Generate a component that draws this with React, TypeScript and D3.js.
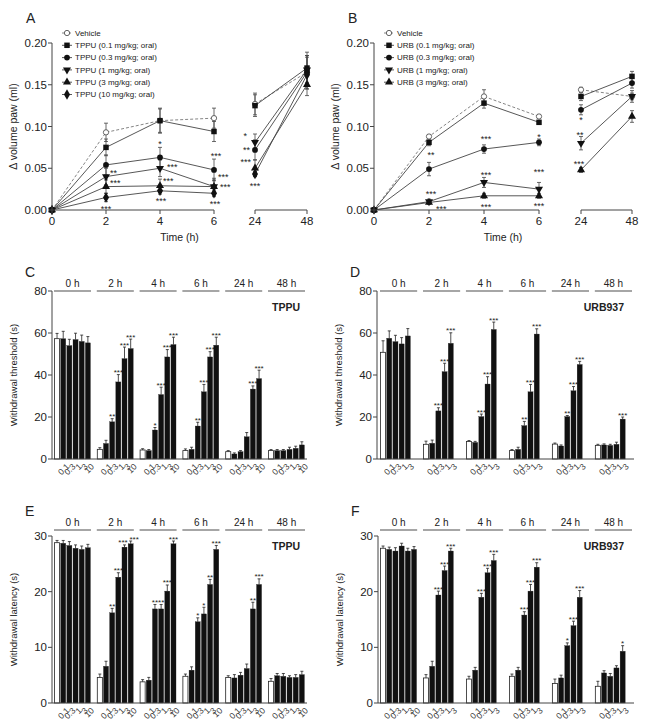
import React from 'react';
import * as d3 from 'd3';

const FONT = 'Arial, "Liberation Sans", Helvetica, sans-serif';
const INK = '#222';

const TIMES = [0, 2, 4, 6, 24, 48];
const GROUPS = ['0 h', '2 h', '4 h', '6 h', '24 h', '48 h'];
const DOSES = ['0.1', '0.3', '1', '3', '10'];
const MARKERS = ['openCircle', 'square', 'circle', 'triDown', 'triUp', 'diamond'];

// ---- panel A: TPPU, paw volume
const tppuNames = ['Vehicle', 'TPPU (0.1 mg/kg; oral)', 'TPPU (0.3 mg/kg; oral)', 'TPPU (1 mg/kg; oral)', 'TPPU (3 mg/kg; oral)', 'TPPU (10 mg/kg; oral)'];
const tppuPawMean = [
  [0, 0.093, 0.107, 0.110, 0.127, 0.165],
  [0, 0.075, 0.107, 0.094, 0.125, 0.170],
  [0, 0.054, 0.063, 0.048, 0.072, 0.165],
  [0, 0.040, 0.050, 0.028, 0.081, 0.168],
  [0, 0.028, 0.029, 0.028, 0.050, 0.150],
  [0, 0.015, 0.023, 0.020, 0.043, 0.162],
];
const tppuPawErr = [
  [0, 0.011, 0.014, 0.012, 0.013, 0.020],
  [0, 0.010, 0.015, 0.012, 0.013, 0.019],
  [0, 0.012, 0.012, 0.013, 0.012, 0.020],
  [0, 0.010, 0.010, 0.010, 0.010, 0.015],
  [0, 0.008, 0.008, 0.008, 0.010, 0.013],
  [0, 0.005, 0.004, 0.004, 0.003, 0.010],
];
const tppuPawStars = [
  { t: 2, v: 0.047, s: '**', dx: 4, anchor: 'start' },
  { t: 2, v: 0.035, s: '***', dx: 4, anchor: 'start' },
  { t: 2, v: 0.004, s: '***', dx: 0, anchor: 'middle' },
  { t: 4, v: 0.081, s: '*', dx: 0, anchor: 'middle' },
  { t: 4, v: 0.054, s: '***', dx: 7, anchor: 'start' },
  { t: 4, v: 0.037, s: '***', dx: 3, anchor: 'start' },
  { t: 4, v: 0.013, s: '***', dx: 1, anchor: 'middle' },
  { t: 6, v: 0.067, s: '***', dx: 2, anchor: 'middle' },
  { t: 6, v: 0.042, s: '***', dx: 4, anchor: 'start' },
  { t: 6, v: 0.030, s: '***', dx: 6, anchor: 'start' },
  { t: 6, v: 0.010, s: '***', dx: 1, anchor: 'middle' },
  { t: 24, v: 0.091, s: '*', dx: -8, anchor: 'end' },
  { t: 24, v: 0.074, s: '**', dx: -5, anchor: 'end' },
  { t: 24, v: 0.060, s: '***', dx: -4, anchor: 'end' },
  { t: 24, v: 0.031, s: '***', dx: 0, anchor: 'middle' },
];

// ---- panel B: URB937, paw volume
const urbNames = ['Vehicle', 'URB (0.1 mg/kg; oral)', 'URB (0.3 mg/kg; oral)', 'URB (1 mg/kg; oral)', 'URB (3 mg/kg; oral)'];
const urbPawMean = [
  [0, 0.088, 0.136, 0.112, 0.144, 0.136],
  [0, 0.081, 0.128, 0.105, 0.136, 0.160],
  [0, 0.049, 0.073, 0.081, 0.120, 0.152],
  [0, 0.010, 0.033, 0.025, 0.080, 0.136],
  [0, 0.009, 0.017, 0.017, 0.048, 0.112],
];
const urbPawErr = [
  [0, 0.002, 0.008, 0.002, 0.003, 0.004],
  [0, 0.004, 0.006, 0.002, 0.005, 0.006],
  [0, 0.008, 0.005, 0.004, 0.006, 0.006],
  [0, 0.003, 0.006, 0.008, 0.008, 0.007],
  [0, 0.002, 0.003, 0.003, 0.003, 0.007],
];
const urbPawStars = [
  { t: 2, v: 0.068, s: '**', dx: 2, anchor: 'middle' },
  { t: 2, v: 0.021, s: '***', dx: 2, anchor: 'middle' },
  { t: 2, v: 0.003, s: '***', dx: 7, anchor: 'start' },
  { t: 4, v: 0.088, s: '***', dx: 2, anchor: 'middle' },
  { t: 4, v: 0.044, s: '***', dx: 2, anchor: 'middle' },
  { t: 4, v: 0.006, s: '***', dx: 2, anchor: 'middle' },
  { t: 6, v: 0.090, s: '*', dx: 0, anchor: 'middle' },
  { t: 6, v: 0.048, s: '***', dx: 0, anchor: 'middle' },
  { t: 6, v: 0.007, s: '***', dx: 0, anchor: 'middle' },
  { t: 24, v: 0.110, s: '*', dx: 0, anchor: 'middle' },
  { t: 24, v: 0.092, s: '**', dx: -1, anchor: 'middle' },
  { t: 24, v: 0.058, s: '***', dx: -2, anchor: 'middle' },
];

// ---- panel C: TPPU withdrawal threshold
const tppuThrMean = [
  [57.3, 57.3, 54.0, 56.9, 56.0, 55.3],
  [4.6, 7.4, 17.7, 36.7, 47.8, 52.6],
  [4.3, 4.0, 13.8, 30.7, 48.6, 54.5],
  [4.0, 4.6, 15.7, 32.0, 48.6, 54.2],
  [3.5, 2.4, 3.5, 10.6, 33.3, 38.3],
  [4.0, 4.0, 4.0, 4.6, 5.1, 6.7],
];
const tppuThrErr = [
  [2.5, 3.5, 3, 3, 3, 3],
  [0.8, 1.5, 1.5, 3.5, 5.5, 4.5],
  [0.6, 0.5, 1.2, 3.5, 3.5, 3.5],
  [0.8, 1, 1.8, 3.5, 2.5, 3.8],
  [0.5, 0.5, 0.5, 2, 1.5, 4],
  [0.5, 0.5, 0.5, 1, 1, 1.5],
];
const tppuThrStars = [
  ['', '', '', '', '', ''],
  ['', '', '**', '***', '***', '***'],
  ['', '', '*', '***', '***', '***'],
  ['', '', '**', '***', '***', '***'],
  ['', '', '', '', '***', '***'],
  ['', '', '', '', '', ''],
];

// ---- panel D: URB937 withdrawal threshold
const urbThrMean = [
  [50.8, 57.5, 55.9, 54.8, 58.6],
  [7.0, 7.5, 22.9, 41.6, 55.1],
  [8.3, 7.9, 20.2, 35.7, 61.7],
  [4.0, 4.6, 15.9, 32.0, 59.5],
  [7.1, 6.2, 20.2, 32.5, 45.0],
  [6.5, 6.7, 6.5, 7.0, 19.0],
];
const urbThrErr = [
  [5.5, 3.5, 3, 3, 3.5],
  [1.5, 1.5, 1.5, 4, 5],
  [0.5, 0.5, 1.2, 3.5, 3.5],
  [0.5, 1, 2, 3.5, 2.5],
  [0.5, 0.5, 0.5, 2, 1.5],
  [0.5, 0.5, 0.5, 1, 1],
];
const urbThrStars = [
  ['', '', '', '', ''],
  ['', '', '***', '***', '***'],
  ['', '', '***', '***', '***'],
  ['', '', '**', '***', '***'],
  ['', '', '**', '***', '***'],
  ['', '', '', '', '***'],
];

// ---- panel E: TPPU withdrawal latency
const tppuLatMean = [
  [28.8, 28.7, 28.3, 27.8, 27.6, 27.9],
  [4.6, 6.6, 16.2, 22.6, 28.0, 28.6],
  [3.8, 4.1, 16.9, 16.9, 20.1, 28.6],
  [4.8, 5.9, 14.6, 16.0, 21.3, 27.6],
  [4.6, 4.5, 5.0, 6.2, 16.9, 21.3],
  [3.9, 4.9, 4.8, 4.6, 4.6, 5.1],
];
const tppuLatErr = [
  [0.4, 0.5, 0.7, 0.6, 0.6, 0.6],
  [0.6, 0.9, 0.8, 0.8, 0.4, 0.5],
  [0.4, 0.5, 0.8, 0.8, 1.1, 0.5],
  [0.4, 0.6, 0.7, 1.2, 0.9, 0.7],
  [0.3, 0.6, 0.5, 0.8, 1.2, 1.0],
  [0.5, 0.4, 0.5, 0.3, 0.5, 0.6],
];
const tppuLatStars = [
  ['', '', '', '', '', ''],
  ['', '', '**', '***', '***', '***'],
  ['', '', '**', '**', '***', '***'],
  ['', '', '*', '*', '**', '***'],
  ['', '', '', '', '**', '***'],
  ['', '', '', '', '', ''],
];
// stars nudged sideways where they would collide: [group, bar, dx]
const tppuLatStarNudge = [[1, 4, -1.5], [1, 5, 3.5]];

// ---- panel F: URB937 withdrawal latency
const urbLatMean = [
  [27.8, 27.6, 27.3, 28.2, 27.3, 27.6],
  [4.5, 6.6, 19.4, 23.8, 27.3],
  [4.3, 5.9, 19.0, 23.4, 25.6],
  [4.8, 5.9, 15.8, 20.1, 24.4],
  [3.5, 4.5, 10.3, 13.9, 19.0],
  [3.0, 5.4, 4.8, 6.3, 9.3],
];
const urbLatErr = [
  [0.4, 0.4, 0.6, 0.5, 0.5, 0.5],
  [0.6, 0.9, 0.7, 0.8, 0.5],
  [0.5, 0.5, 0.7, 0.8, 1.1],
  [0.4, 0.5, 0.6, 1.2, 0.8],
  [0.8, 0.5, 0.5, 0.8, 1.2],
  [0.9, 0.4, 0.5, 0.4, 1.0],
];
const urbLatStars = [
  ['', '', '', '', '', ''],
  ['', '', '***', '***', '***'],
  ['', '', '***', '***', '***'],
  ['', '', '***', '***', '***'],
  ['', '', '*', '***', '***'],
  ['', '', '', '', '*'],
];

const markerSize: Record<string, number> = { openCircle: 22, square: 30, circle: 26, triDown: 28, triUp: 28, diamond: 32 };

function Marker({ kind, x, y }: { kind: string; x: number; y: number }) {
  const type = kind === 'square' ? d3.symbolSquare : kind === 'diamond' ? d3.symbolDiamond : kind.startsWith('tri') ? d3.symbolTriangle : d3.symbolCircle;
  const d = d3.symbol().type(type).size(markerSize[kind])() as string;
  const open = kind === 'openCircle';
  return (
    <path
      d={d}
      transform={`translate(${x},${y}) rotate(${kind === 'triDown' ? 180 : 0})`}
      fill={open ? '#fff' : '#111'}
      stroke={open ? '#555' : 'none'}
      strokeWidth={0.9}
    />
  );
}

function LinePanel({ letter, axisX, early, late, names, means, errs, stars }: any) {
  const y = d3.scaleLinear().domain([0, 0.2]).range([210, 43]);
  const xe = d3.scaleLinear().domain([0, 6]).range(early);
  const xl = d3.scaleLinear().domain([24, 48]).range(late);
  const xp = (t: number) => (t <= 6 ? xe(t) : xl(t));
  const line = d3.line<number[]>().x((d) => xp(d[0])).y((d) => y(d[1]));
  const pts = (row: number[]) => TIMES.map((t, j) => [t, row[j]]);

  return (
    <g fontFamily={FONT} fill={INK}>
      <text x={axisX - 26} y={23} fontSize={14}>{letter}</text>
      {/* series lines, broken between 6 h and 24 h */}
      {means.map((row: number[], i: number) => {
        const p = pts(row);
        return (
          <g key={'l' + i} fill="none" stroke={i === 0 ? '#777' : '#444'} strokeWidth={0.9} strokeDasharray={i === 0 ? '3,2' : undefined}>
            <path d={line(p.slice(0, 4)) as string} />
            <path d={line(p.slice(4)) as string} />
          </g>
        );
      })}
      {means.map((row: number[], i: number) =>
        row.map((v, j) => {
          const e = errs[i][j];
          if (!e) return null;
          const x = xp(TIMES[j]);
          return (
            <g key={`e${i}-${j}`} stroke="#444" strokeWidth={0.8}>
              <line x1={x} x2={x} y1={y(v - e)} y2={y(v + e)} />
              <line x1={x - 2} x2={x + 2} y1={y(v - e)} y2={y(v - e)} />
              <line x1={x - 2} x2={x + 2} y1={y(v + e)} y2={y(v + e)} />
            </g>
          );
        })
      )}
      {means.map((row: number[], i: number) =>
        row.map((v, j) => <Marker key={`m${i}-${j}`} kind={MARKERS[i]} x={xp(TIMES[j])} y={y(v)} />)
      )}
      <g stroke="#444" strokeWidth={1}>
        <line x1={axisX} x2={axisX} y1={y(0)} y2={y(0.2)} />
        <line x1={early[0]} x2={early[1]} y1={y(0)} y2={y(0)} />
        <line x1={late[0]} x2={late[1]} y1={y(0)} y2={y(0)} />
        {y.ticks(4).map((t) => (
          <line key={'yt' + t} x1={axisX - 4} x2={axisX} y1={y(t)} y2={y(t)} />
        ))}
        {TIMES.map((t) => (
          <line key={'xt' + t} x1={xp(t)} x2={xp(t)} y1={y(0)} y2={y(0) + 4} />
        ))}
      </g>
      {y.ticks(4).map((t) => (
        <text key={'yl' + t} x={axisX - 5} y={y(t)} dy="0.35em" textAnchor="end" fontSize={11.5}>
          {d3.format('.2f')(t)}
        </text>
      ))}
      {TIMES.map((t) => (
        <text key={'xl' + t} x={xp(t)} y={y(0) + 15} textAnchor="middle" fontSize={11.5}>
          {t}
        </text>
      ))}
      <text x={(early[0] + late[1]) / 2} y={241} textAnchor="middle" fontSize={10.5}>Time (h)</text>
      <text transform={`translate(${axisX - 35},${y(0.1)}) rotate(-90)`} textAnchor="middle" fontSize={10.5}>
        Δ volume paw (ml)
      </text>
      {names.map((n: string, i: number) => {
        const ly = 33 + i * 12.3;
        const lx = axisX + 15;
        return (
          <g key={'lg' + i}>
            <line x1={lx - 5} x2={lx + 5} y1={ly} y2={ly} stroke={i === 0 ? '#777' : '#444'} strokeWidth={0.9} strokeDasharray={i === 0 ? '2,1.5' : undefined} />
            <Marker kind={MARKERS[i]} x={lx} y={ly} />
            <text x={lx + 8} y={ly} dy="0.35em" fontSize={8}>{n}</text>
          </g>
        );
      })}
      {stars.map((s: any, k: number) => (
        <text key={'s' + k} x={xp(s.t) + s.dx} y={y(s.v) + 5} textAnchor={s.anchor} fontSize={9}>
          {s.s}
        </text>
      ))}
    </g>
  );
}

function BarPanel({ letter, axisX, band, base, top, max, ticks, headerY, means, errs, stars, nudge = [], drug, drugX, title }: any) {
  const y = d3.scaleLinear().domain([0, max]).range([base, top]);
  const gx = d3.scaleBand<string>().domain(GROUPS).range(band).paddingInner(0.135).paddingOuter(0);
  const pitch = gx.bandwidth() / 6;
  const bw = pitch - 1.1;
  const axisEnd = band[1] + 2;
  const starDx = (gi: number, bi: number) => {
    const n = nudge.find((d: number[]) => d[0] === gi && d[1] === bi);
    return n ? n[2] : 0;
  };

  return (
    <g fontFamily={FONT} fill={INK}>
      <text x={axisX - 27} y={headerY - 14} fontSize={14}>{letter}</text>
      {GROUPS.map((g) => (
        <g key={g}>
          <line x1={gx(g)} x2={(gx(g) as number) + gx.bandwidth()} y1={headerY} y2={headerY} stroke="#888" strokeWidth={1.5} />
          <text x={(gx(g) as number) + gx.bandwidth() / 2} y={headerY - 4.5} textAnchor="middle" fontSize={10}>{g}</text>
        </g>
      ))}
      <text x={drugX} y={headerY + 20} textAnchor="end" fontSize={10.5} fontWeight="bold">{drug}</text>
      {means.map((row: number[], gi: number) => {
        const g0 = gx(GROUPS[gi]) as number;
        return row.map((v, bi) => {
          const x = g0 + bi * pitch + 0.5;
          const cx = x + bw / 2;
          const et = y(v + errs[gi][bi]);
          return (
            <g key={`b${gi}-${bi}`}>
              <line x1={cx} x2={cx} y1={y(v)} y2={et} stroke="#222" strokeWidth={0.8} />
              <line x1={cx - 1.5} x2={cx + 1.5} y1={et} y2={et} stroke="#222" strokeWidth={0.8} />
              <rect
                x={x}
                y={y(v)}
                width={bw}
                height={base - y(v)}
                fill={bi === 0 ? '#fff' : '#111'}
                stroke="#222"
                strokeWidth={bi === 0 ? 0.8 : 0.3}
              />
              {stars[gi][bi] && (
                <text x={cx + starDx(gi, bi)} y={et + 0.5} textAnchor="middle" fontSize={8}>{stars[gi][bi]}</text>
              )}
              {bi > 0 && (
                <text
                  transform={`translate(${cx + 2.5},${base + 4}) rotate(-45)`}
                  textAnchor="end"
                  dy="0.7em"
                  fontSize={8.5}
                  fill="#333"
                >
                  {DOSES[bi - 1]}
                </text>
              )}
            </g>
          );
        });
      })}
      <g stroke="#444" strokeWidth={1}>
        <line x1={axisX} x2={axisX} y1={base} y2={top} />
        <line x1={axisX} x2={axisEnd} y1={base} y2={base} />
        {ticks.map((t: number) => (
          <line key={'t' + t} x1={axisX - 4} x2={axisX} y1={y(t)} y2={y(t)} />
        ))}
      </g>
      {ticks.map((t: number) => (
        <text key={'l' + t} x={axisX - 5} y={y(t)} dy="0.35em" textAnchor="end" fontSize={11.5}>{t}</text>
      ))}
      <text transform={`translate(${axisX - 35},${(base + top) / 2}) rotate(-90)`} textAnchor="middle" fontSize={9.5}>
        {title}
      </text>
    </g>
  );
}

export default function App() {
  return (
    <svg width={645} height={726} style={{ position: 'absolute', left: 0, top: 0, background: '#fff' }}>
      <rect width={645} height={726} fill="#fff" />
      <LinePanel letter="A" axisX={52} early={[52, 214]} late={[255, 307]} names={tppuNames} means={tppuPawMean} errs={tppuPawErr} stars={tppuPawStars} />
      <LinePanel letter="B" axisX={374} early={[374, 539]} late={[581, 632]} names={urbNames} means={urbPawMean} errs={urbPawErr} stars={urbPawStars} />
      <BarPanel letter="C" axisX={52} band={[54, 305]} base={459} top={291} max={80} ticks={[0, 20, 40, 60, 80]} headerY={291}
        means={tppuThrMean} errs={tppuThrErr} stars={tppuThrStars} drug="TPPU" drugX={300} title="Withdrawal threshold (s)" />
      <BarPanel letter="D" axisX={377} band={[380, 632]} base={459} top={291} max={80} ticks={[0, 20, 40, 60, 80]} headerY={291}
        means={urbThrMean} errs={urbThrErr} stars={urbThrStars} drug="URB937" drugX={624} title="Withdrawal threshold (s)" />
      <BarPanel letter="E" axisX={52} band={[54, 305]} base={703} top={536} max={30} ticks={[0, 10, 20, 30]} headerY={530}
        means={tppuLatMean} errs={tppuLatErr} stars={tppuLatStars} nudge={tppuLatStarNudge} drug="TPPU" drugX={300} title="Withdrawal latency (s)" />
      <BarPanel letter="F" axisX={378} band={[380, 632]} base={703} top={536} max={30} ticks={[0, 10, 20, 30]} headerY={530}
        means={urbLatMean} errs={urbLatErr} stars={urbLatStars} drug="URB937" drugX={624} title="Withdrawal latency (s)" />
    </svg>
  );
}
